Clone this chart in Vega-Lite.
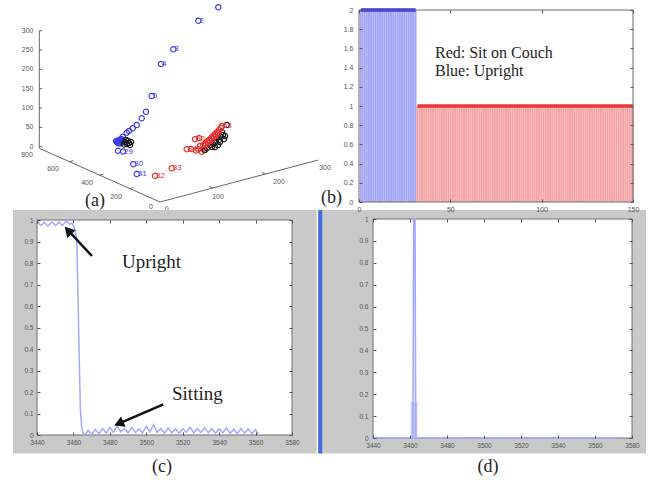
{
  "$schema": "https://vega.github.io/schema/vega-lite/v6.json",
  "width": 654,
  "height": 485,
  "autosize": {"type": "none"},
  "padding": 0,
  "background": "white",
  "config": {
    "view": {"stroke": null},
    "font": "Liberation Sans"
  },
  "layer": [
    {
      "encoding": {
        "x": {"field": "u", "type": "quantitative", "scale": {"domain": [-160, 494], "nice": false, "zero": false}, "axis": null},
        "y": {"field": "v", "type": "quantitative", "scale": {"domain": [-283, 202], "nice": false, "zero": false}, "axis": null}
      },
      "layer": [
        {
          "data": {"values": [
            {"u": -120.7, "v": 54, "u2": -120.7, "v2": 171.3},
            {"u": 0, "v": 0, "u2": -120.7, "v2": 53.7},
            {"u": 0, "v": 0, "u2": 158.3, "v2": 42},
            {"u": -120.7, "v": 55.3, "u2": -117.7, "v2": 55.3},
            {"u": -120.7, "v": 74.6, "u2": -117.7, "v2": 74.6},
            {"u": -120.7, "v": 94, "u2": -117.7, "v2": 94},
            {"u": -120.7, "v": 113.3, "u2": -117.7, "v2": 113.3},
            {"u": -120.7, "v": 132.7, "u2": -117.7, "v2": 132.7},
            {"u": -120.7, "v": 152, "u2": -117.7, "v2": 152},
            {"u": -120.7, "v": 171.3, "u2": -117.7, "v2": 171.3},
            {"u": -30.2, "v": 13.4, "u2": -26.3, "v2": 14.4},
            {"u": -60.4, "v": 26.9, "u2": -56.5, "v2": 27.9},
            {"u": -90.5, "v": 40.3, "u2": -86.6, "v2": 41.3},
            {"u": 52.8, "v": 14, "u2": 49.1, "v2": 15.6},
            {"u": 105.5, "v": 28, "u2": 101.8, "v2": 29.6}
          ]},
          "mark": {"type": "rule", "color": "#666", "strokeWidth": 1},
          "encoding": {"x2": {"field": "u2"}, "y2": {"field": "v2"}}
        },
        {
          "data": {"values": [
            {"u": -126.5, "v": 55.3, "t": "0"},
            {"u": -126.5, "v": 74.6, "t": "50"},
            {"u": -126.5, "v": 94, "t": "100"},
            {"u": -126.5, "v": 113.3, "t": "150"},
            {"u": -126.5, "v": 132.7, "t": "200"},
            {"u": -126.5, "v": 152, "t": "250"},
            {"u": -126.5, "v": 171.3, "t": "300"}
          ]},
          "mark": {"type": "text", "align": "right", "baseline": "middle", "fontSize": 7, "color": "#555"},
          "encoding": {"text": {"field": "t", "type": "nominal"}}
        },
        {
          "data": {"values": [
            {"u": -9, "v": -5, "t": "0"},
            {"u": -44, "v": 5, "t": "200"},
            {"u": -73, "v": 19, "t": "400"},
            {"u": -107, "v": 33, "t": "600"},
            {"u": -133, "v": 47, "t": "800"},
            {"u": 6.7, "v": -7.3, "t": "0"},
            {"u": 58, "v": 5, "t": "100"},
            {"u": 119, "v": 20, "t": "200"},
            {"u": 165, "v": 34, "t": "300"}
          ]},
          "mark": {"type": "text", "align": "center", "baseline": "middle", "fontSize": 7, "color": "#555"},
          "encoding": {"text": {"field": "t", "type": "nominal"}}
        },
        {
          "data": {"values": [
            {"u": 58.3, "v": 194.7, "g": "U"}, {"u": 38.3, "v": 181.3, "g": "U"}, {"u": 13.3, "v": 152.7, "g": "U"}, {"u": 1, "v": 138, "g": "U"},
            {"u": -8.3, "v": 106, "g": "U"}, {"u": -14, "v": 90.3, "g": "U"}, {"u": -18.3, "v": 83.7, "g": "U"}, {"u": -23.3, "v": 77, "g": "U"},
            {"u": -27.3, "v": 73.7, "g": "U"}, {"u": -31, "v": 71, "g": "U"}, {"u": -33.3, "v": 69.3, "g": "U"}, {"u": -37.3, "v": 65.3, "g": "U"},
            {"u": -43, "v": 60, "g": "U"}, {"u": -42, "v": 61.5, "g": "U"}, {"u": -41, "v": 59, "g": "U"}, {"u": -40, "v": 62, "g": "U"},
            {"u": -39, "v": 60.5, "g": "U"}, {"u": -38, "v": 59.5, "g": "U"}, {"u": -37, "v": 61, "g": "U"}, {"u": -42, "v": 59, "g": "U"},
            {"u": -40, "v": 58.5, "g": "U"}, {"u": -38, "v": 62.5, "g": "U"}, {"u": -41, "v": 61, "g": "U"}, {"u": -39, "v": 63, "g": "U"},
            {"u": -44, "v": 61, "g": "U"}, {"u": -36, "v": 60, "g": "U"},
            {"u": -42, "v": 51.3, "g": "U"}, {"u": -37, "v": 50.5, "g": "U"}, {"u": -26.7, "v": 37.7, "g": "U"}, {"u": -23.3, "v": 28, "g": "U"},
            {"u": -5, "v": 26.3, "g": "S"}, {"u": 11.7, "v": 33.7, "g": "S"}, {"u": 26.7, "v": 52.7, "g": "S"}, {"u": 31, "v": 53, "g": "S"},
            {"u": 36, "v": 51.5, "g": "S"}, {"u": 38.3, "v": 52.7, "g": "S"}, {"u": 41.7, "v": 50.3, "g": "S"}, {"u": 35, "v": 62.7, "g": "S"},
            {"u": 39, "v": 64, "g": "S"}, {"u": 44, "v": 52, "g": "S"}, {"u": 40, "v": 56, "g": "S"},
            {"u": 50, "v": 57, "g": "O"}, {"u": 53, "v": 58, "g": "O"}, {"u": 56, "v": 60, "g": "O"}, {"u": 59, "v": 62, "g": "O"},
            {"u": 61, "v": 65, "g": "O"}, {"u": 63, "v": 67, "g": "O"}, {"u": 58, "v": 57, "g": "O"}, {"u": 55, "v": 55, "g": "O"},
            {"u": 60, "v": 60, "g": "O"}, {"u": 64, "v": 63, "g": "O"}, {"u": 62, "v": 70, "g": "O"}, {"u": 47, "v": 54, "g": "O"},
            {"u": 45, "v": 52, "g": "O"}, {"u": 52, "v": 55, "g": "O"}, {"u": 57, "v": 64, "g": "O"}, {"u": 65, "v": 66, "g": "O"},
            {"u": 66.7, "v": 77, "g": "O"},
            {"u": 43.3, "v": 57, "g": "S"}, {"u": 45, "v": 58.5, "g": "S"}, {"u": 47, "v": 60.5, "g": "S"}, {"u": 49, "v": 62, "g": "S"},
            {"u": 51, "v": 64, "g": "S"}, {"u": 53, "v": 66, "g": "S"}, {"u": 55, "v": 68, "g": "S"}, {"u": 57, "v": 70, "g": "S"},
            {"u": 59, "v": 72, "g": "S"}, {"u": 61, "v": 74, "g": "S"}, {"u": 46, "v": 57.5, "g": "S"}, {"u": 48, "v": 59, "g": "S"},
            {"u": 50, "v": 61, "g": "S"}, {"u": 52, "v": 63, "g": "S"}, {"u": 54, "v": 65, "g": "S"}, {"u": 56, "v": 67, "g": "S"},
            {"u": 58, "v": 69, "g": "S"}, {"u": 61.7, "v": 76, "g": "S"},
            {"u": -35, "v": 60, "g": "O"}, {"u": -33, "v": 58, "g": "O"}, {"u": -31, "v": 59, "g": "O"}, {"u": -34, "v": 62, "g": "O"},
            {"u": -32, "v": 61, "g": "O"}, {"u": -30, "v": 57, "g": "O"}, {"u": -36, "v": 57.5, "g": "O"}, {"u": -29, "v": 60, "g": "O"}
          ]},
          "mark": {"type": "point", "filled": false, "size": 28, "strokeWidth": 1.2, "opacity": 1},
          "encoding": {"color": {"field": "g", "type": "nominal", "scale": {"domain": ["U", "S", "O"], "range": ["#3c3ce6", "#e83030", "#1a1a1a"]}, "legend": null}}
        },
        {
          "data": {"values": [
            {"u": 38.3, "v": 181.3, "t": "2", "g": "U"}, {"u": 13.3, "v": 152.7, "t": "3", "g": "U"},
            {"u": 1, "v": 138, "t": "4", "g": "U"}, {"u": -8.3, "v": 106, "t": "5", "g": "U"},
            {"u": -37, "v": 50.5, "t": "29", "g": "U"}, {"u": -26.7, "v": 37.7, "t": "30", "g": "U"},
            {"u": -23.3, "v": 28, "t": "31", "g": "U"}, {"u": -5, "v": 26.3, "t": "32", "g": "S"},
            {"u": 11.7, "v": 33.7, "t": "33", "g": "S"}, {"u": 61.7, "v": 76, "t": "53", "g": "S"},
            {"u": 26.7, "v": 52.7, "t": "34", "g": "S"}, {"u": 35, "v": 62.7, "t": "50", "g": "S"}
          ]},
          "mark": {"type": "text", "align": "left", "baseline": "middle", "dx": 1, "fontSize": 8},
          "encoding": {"text": {"field": "t", "type": "nominal"}, "color": {"field": "g", "type": "nominal", "legend": null}}
        },
        {
          "data": {"values": [
            {"u": -65, "v": 1.5, "t": "(a)"},
            {"u": 171.5, "v": 4.5, "t": "(b)"}
          ]},
          "mark": {"type": "text", "align": "center", "baseline": "middle", "font": "Liberation Serif", "fontSize": 18, "color": "#1e1e1e"},
          "encoding": {"text": {"field": "t", "type": "nominal"}}
        }
      ]
    },
    {
      "data": {"values": [
        {"i": 1, "v": 2, "g": "U"}, {"i": 2, "v": 2, "g": "U"}, {"i": 3, "v": 2, "g": "U"}, {"i": 4, "v": 2, "g": "U"}, {"i": 5, "v": 2, "g": "U"},
        {"i": 6, "v": 2, "g": "U"}, {"i": 7, "v": 2, "g": "U"}, {"i": 8, "v": 2, "g": "U"}, {"i": 9, "v": 2, "g": "U"}, {"i": 10, "v": 2, "g": "U"},
        {"i": 11, "v": 2, "g": "U"}, {"i": 12, "v": 2, "g": "U"}, {"i": 13, "v": 2, "g": "U"}, {"i": 14, "v": 2, "g": "U"}, {"i": 15, "v": 2, "g": "U"},
        {"i": 16, "v": 2, "g": "U"}, {"i": 17, "v": 2, "g": "U"}, {"i": 18, "v": 2, "g": "U"}, {"i": 19, "v": 2, "g": "U"}, {"i": 20, "v": 2, "g": "U"},
        {"i": 21, "v": 2, "g": "U"}, {"i": 22, "v": 2, "g": "U"}, {"i": 23, "v": 2, "g": "U"}, {"i": 24, "v": 2, "g": "U"}, {"i": 25, "v": 2, "g": "U"},
        {"i": 26, "v": 2, "g": "U"}, {"i": 27, "v": 2, "g": "U"}, {"i": 28, "v": 2, "g": "U"}, {"i": 29, "v": 2, "g": "U"}, {"i": 30, "v": 2, "g": "U"},
        {"i": 31, "v": 2, "g": "U"}, {"i": 32, "v": 1, "g": "S"}, {"i": 33, "v": 1, "g": "S"}, {"i": 34, "v": 1, "g": "S"}, {"i": 35, "v": 1, "g": "S"},
        {"i": 36, "v": 1, "g": "S"}, {"i": 37, "v": 1, "g": "S"}, {"i": 38, "v": 1, "g": "S"}, {"i": 39, "v": 1, "g": "S"}, {"i": 40, "v": 1, "g": "S"},
        {"i": 41, "v": 1, "g": "S"}, {"i": 42, "v": 1, "g": "S"}, {"i": 43, "v": 1, "g": "S"}, {"i": 44, "v": 1, "g": "S"}, {"i": 45, "v": 1, "g": "S"},
        {"i": 46, "v": 1, "g": "S"}, {"i": 47, "v": 1, "g": "S"}, {"i": 48, "v": 1, "g": "S"}, {"i": 49, "v": 1, "g": "S"}, {"i": 50, "v": 1, "g": "S"},
        {"i": 51, "v": 1, "g": "S"}, {"i": 52, "v": 1, "g": "S"}, {"i": 53, "v": 1, "g": "S"}, {"i": 54, "v": 1, "g": "S"}, {"i": 55, "v": 1, "g": "S"},
        {"i": 56, "v": 1, "g": "S"}, {"i": 57, "v": 1, "g": "S"}, {"i": 58, "v": 1, "g": "S"}, {"i": 59, "v": 1, "g": "S"}, {"i": 60, "v": 1, "g": "S"},
        {"i": 61, "v": 1, "g": "S"}, {"i": 62, "v": 1, "g": "S"}, {"i": 63, "v": 1, "g": "S"}, {"i": 64, "v": 1, "g": "S"}, {"i": 65, "v": 1, "g": "S"},
        {"i": 66, "v": 1, "g": "S"}, {"i": 67, "v": 1, "g": "S"}, {"i": 68, "v": 1, "g": "S"}, {"i": 69, "v": 1, "g": "S"}, {"i": 70, "v": 1, "g": "S"},
        {"i": 71, "v": 1, "g": "S"}, {"i": 72, "v": 1, "g": "S"}, {"i": 73, "v": 1, "g": "S"}, {"i": 74, "v": 1, "g": "S"}, {"i": 75, "v": 1, "g": "S"},
        {"i": 76, "v": 1, "g": "S"}, {"i": 77, "v": 1, "g": "S"}, {"i": 78, "v": 1, "g": "S"}, {"i": 79, "v": 1, "g": "S"}, {"i": 80, "v": 1, "g": "S"},
        {"i": 81, "v": 1, "g": "S"}, {"i": 82, "v": 1, "g": "S"}, {"i": 83, "v": 1, "g": "S"}, {"i": 84, "v": 1, "g": "S"}, {"i": 85, "v": 1, "g": "S"},
        {"i": 86, "v": 1, "g": "S"}, {"i": 87, "v": 1, "g": "S"}, {"i": 88, "v": 1, "g": "S"}, {"i": 89, "v": 1, "g": "S"}, {"i": 90, "v": 1, "g": "S"},
        {"i": 91, "v": 1, "g": "S"}, {"i": 92, "v": 1, "g": "S"}, {"i": 93, "v": 1, "g": "S"}, {"i": 94, "v": 1, "g": "S"}, {"i": 95, "v": 1, "g": "S"},
        {"i": 96, "v": 1, "g": "S"}, {"i": 97, "v": 1, "g": "S"}, {"i": 98, "v": 1, "g": "S"}, {"i": 99, "v": 1, "g": "S"}, {"i": 100, "v": 1, "g": "S"},
        {"i": 101, "v": 1, "g": "S"}, {"i": 102, "v": 1, "g": "S"}, {"i": 103, "v": 1, "g": "S"}, {"i": 104, "v": 1, "g": "S"}, {"i": 105, "v": 1, "g": "S"},
        {"i": 106, "v": 1, "g": "S"}, {"i": 107, "v": 1, "g": "S"}, {"i": 108, "v": 1, "g": "S"}, {"i": 109, "v": 1, "g": "S"}, {"i": 110, "v": 1, "g": "S"},
        {"i": 111, "v": 1, "g": "S"}, {"i": 112, "v": 1, "g": "S"}, {"i": 113, "v": 1, "g": "S"}, {"i": 114, "v": 1, "g": "S"}, {"i": 115, "v": 1, "g": "S"},
        {"i": 116, "v": 1, "g": "S"}, {"i": 117, "v": 1, "g": "S"}, {"i": 118, "v": 1, "g": "S"}, {"i": 119, "v": 1, "g": "S"}, {"i": 120, "v": 1, "g": "S"},
        {"i": 121, "v": 1, "g": "S"}, {"i": 122, "v": 1, "g": "S"}, {"i": 123, "v": 1, "g": "S"}, {"i": 124, "v": 1, "g": "S"}, {"i": 125, "v": 1, "g": "S"},
        {"i": 126, "v": 1, "g": "S"}, {"i": 127, "v": 1, "g": "S"}, {"i": 128, "v": 1, "g": "S"}, {"i": 129, "v": 1, "g": "S"}, {"i": 130, "v": 1, "g": "S"},
        {"i": 131, "v": 1, "g": "S"}, {"i": 132, "v": 1, "g": "S"}, {"i": 133, "v": 1, "g": "S"}, {"i": 134, "v": 1, "g": "S"}, {"i": 135, "v": 1, "g": "S"},
        {"i": 136, "v": 1, "g": "S"}, {"i": 137, "v": 1, "g": "S"}, {"i": 138, "v": 1, "g": "S"}, {"i": 139, "v": 1, "g": "S"}, {"i": 140, "v": 1, "g": "S"},
        {"i": 141, "v": 1, "g": "S"}, {"i": 142, "v": 1, "g": "S"}, {"i": 143, "v": 1, "g": "S"}, {"i": 144, "v": 1, "g": "S"}, {"i": 145, "v": 1, "g": "S"},
        {"i": 146, "v": 1, "g": "S"}, {"i": 147, "v": 1, "g": "S"}, {"i": 148, "v": 1, "g": "S"}, {"i": 149, "v": 1, "g": "S"}, {"i": 150, "v": 1, "g": "S"}
      ]},
      "layer": [
        {
          "mark": {"type": "bar", "width": 1.83},
          "encoding": {
            "x": {"field": "i", "type": "quantitative", "scale": {"domain": [0, 150], "range": [359, 633], "nice": false, "zero": false, "padding": 0}, "axis": {"orient": "bottom", "offset": -283, "values": [0, 50, 100, 150], "domain": false, "grid": false, "tickSize": -3, "tickColor": "#555", "labelPadding": 6, "labelFontSize": 7, "labelColor": "#555", "labelOverlap": false, "labelFlush": false, "zindex": 1, "title": null}},
            "y": {"field": "v", "type": "quantitative", "stack": null, "scale": {"domain": [0, 2], "range": [202, 10], "nice": false, "zero": false, "padding": 0}, "axis": {"orient": "left", "offset": -359, "values": [0, 0.2, 0.4, 0.6, 0.8, 1, 1.2, 1.4, 1.6, 1.8, 2], "format": "~g", "domain": false, "grid": false, "tickSize": -3, "tickColor": "#555", "labelPadding": 9, "labelFontSize": 7, "labelColor": "#555", "labelOverlap": false, "labelFlush": false, "zindex": 1, "title": null}},
            "fill": {"field": "g", "type": "nominal", "scale": {"domain": ["U", "S"], "range": ["#a3a7f5", "#f6a6a6"]}, "legend": null}
          }
        },
        {
          "mark": {"type": "line", "strokeWidth": 3.5},
          "encoding": {
            "x": {"field": "i", "type": "quantitative"},
            "y": {"field": "v", "type": "quantitative"},
            "stroke": {"field": "g", "type": "nominal", "scale": {"domain": ["U", "S"], "range": ["#3535e8", "#ef3636"]}, "legend": null}
          }
        },
        {
          "data": {"values": [{"i": 41.6, "v": 1.557, "t": "Red: Sit on Couch"}, {"i": 41.6, "v": 1.365, "t": "Blue: Upright"}]},
          "mark": {"type": "text", "align": "left", "baseline": "middle", "font": "Liberation Serif", "fontSize": 16, "color": "#1e1e1e"},
          "encoding": {"x": {"field": "i", "type": "quantitative"}, "y": {"field": "v", "type": "quantitative"}, "text": {"field": "t", "type": "nominal"}}
        }
      ]
    },
    {
      "data": {"values": [{"i": 0, "i2": 150, "v": 0, "v2": 2}]},
      "mark": {"type": "rect", "filled": false, "stroke": "#6b6b6b", "strokeWidth": 1},
      "encoding": {
        "x": {"field": "i", "type": "quantitative", "scale": {"domain": [0, 150], "range": [359, 633], "nice": false, "zero": false}, "axis": {"orient": "top", "offset": -10, "values": [0, 50, 100, 150], "labels": false, "domain": false, "grid": false, "tickSize": -3, "tickColor": "#555", "zindex": 1, "title": null}},
        "x2": {"field": "i2"},
        "y": {"field": "v", "type": "quantitative", "scale": {"domain": [0, 2], "range": [202, 10], "nice": false, "zero": false}, "axis": {"orient": "right", "offset": -21, "values": [0, 0.2, 0.4, 0.6, 0.8, 1, 1.2, 1.4, 1.6, 1.8, 2], "labels": false, "domain": false, "grid": false, "tickSize": -3, "tickColor": "#555", "zindex": 1, "title": null}},
        "y2": {"field": "v2"}
      }
    },
    {
      "layer": [
        {
          "data": {"values": [{"t": 3426.8, "t2": 3593.5, "p": -0.086, "p2": 1.0465}]},
          "mark": {"type": "rect", "color": "#c9c9c9"},
          "encoding": {"x": {"field": "t", "type": "quantitative"}, "x2": {"field": "t2"}, "y": {"field": "p", "type": "quantitative"}, "y2": {"field": "p2"}}
        },
        {
          "data": {"values": [{"t": 3595.6, "p": -0.086, "p2": 1.0465}]},
          "mark": {"type": "rule", "color": "#3c6ed8", "strokeWidth": 4.5},
          "encoding": {"x": {"field": "t", "type": "quantitative"}, "y": {"field": "p", "type": "quantitative"}, "y2": {"field": "p2"}}
        },
        {
          "data": {"values": [{"t": 3440, "t2": 3580, "p": 0, "p2": 1}]},
          "mark": {"type": "rect", "fill": "white", "stroke": "#707070", "strokeWidth": 1},
          "encoding": {
            "x": {"field": "t", "type": "quantitative", "scale": {"domain": [3440, 3580], "range": [37, 292], "nice": false, "zero": false}, "axis": {"orient": "top", "offset": -220, "values": [3440, 3460, 3480, 3500, 3520, 3540, 3560, 3580], "labels": false, "domain": false, "grid": false, "tickSize": -3, "tickColor": "#555", "zindex": 1, "title": null}},
            "x2": {"field": "t2"},
            "y": {"field": "p", "type": "quantitative", "scale": {"domain": [0, 1], "range": [435, 220], "nice": false, "zero": false}, "axis": {"orient": "right", "offset": -362, "values": [0, 0.1, 0.2, 0.3, 0.4, 0.5, 0.6, 0.7, 0.8, 0.9, 1], "labels": false, "domain": false, "grid": false, "tickSize": -3, "tickColor": "#555", "zindex": 1, "title": null}},
            "y2": {"field": "p2"}
          }
        }
      ]
    },
    {
      "layer": [
        {
          "data": {"values": [
            {"t": 3440, "p": 0.995}, {"t": 3441, "p": 0.985}, {"t": 3442, "p": 0.975}, {"t": 3443, "p": 0.98}, {"t": 3444, "p": 0.99},
            {"t": 3445, "p": 0.98}, {"t": 3446, "p": 0.972}, {"t": 3447, "p": 0.98}, {"t": 3448, "p": 0.99}, {"t": 3449, "p": 0.985},
            {"t": 3450, "p": 0.975}, {"t": 3451, "p": 0.98}, {"t": 3452, "p": 0.99}, {"t": 3453, "p": 0.982}, {"t": 3454, "p": 0.975},
            {"t": 3455, "p": 0.985}, {"t": 3456, "p": 0.995}, {"t": 3457, "p": 0.99}, {"t": 3458, "p": 0.98}, {"t": 3459, "p": 0.985},
            {"t": 3460, "p": 0.975}, {"t": 3461, "p": 0.95}, {"t": 3461.8, "p": 0.91}, {"t": 3462.5, "p": 0.65}, {"t": 3463.2, "p": 0.35},
            {"t": 3463.8, "p": 0.12}, {"t": 3464.6, "p": 0.03}, {"t": 3465.5, "p": 0.005}, {"t": 3466.5, "p": 0.0},
            {"t": 3468, "p": 0.022}, {"t": 3470, "p": 0.004}, {"t": 3472, "p": 0.026}, {"t": 3474, "p": 0.006}, {"t": 3476, "p": 0.03},
            {"t": 3478, "p": 0.008}, {"t": 3480, "p": 0.035}, {"t": 3482, "p": 0.012}, {"t": 3484, "p": 0.042}, {"t": 3486, "p": 0.015},
            {"t": 3488, "p": 0.03}, {"t": 3490, "p": 0.01}, {"t": 3492, "p": 0.035}, {"t": 3494, "p": 0.012}, {"t": 3496, "p": 0.028},
            {"t": 3498, "p": 0.01}, {"t": 3500, "p": 0.04}, {"t": 3502, "p": 0.015}, {"t": 3504, "p": 0.048}, {"t": 3506, "p": 0.012},
            {"t": 3508, "p": 0.03}, {"t": 3510, "p": 0.008}, {"t": 3512, "p": 0.032}, {"t": 3514, "p": 0.01}, {"t": 3516, "p": 0.028},
            {"t": 3518, "p": 0.008}, {"t": 3520, "p": 0.03}, {"t": 3522, "p": 0.012}, {"t": 3524, "p": 0.036}, {"t": 3526, "p": 0.01},
            {"t": 3528, "p": 0.03}, {"t": 3530, "p": 0.012}, {"t": 3532, "p": 0.034}, {"t": 3534, "p": 0.01}, {"t": 3536, "p": 0.03},
            {"t": 3538, "p": 0.008}, {"t": 3540, "p": 0.028}, {"t": 3542, "p": 0.01}, {"t": 3544, "p": 0.032}, {"t": 3546, "p": 0.008},
            {"t": 3548, "p": 0.026}, {"t": 3550, "p": 0.006}, {"t": 3552, "p": 0.03}, {"t": 3554, "p": 0.008}, {"t": 3556, "p": 0.028},
            {"t": 3558, "p": 0.006}, {"t": 3560, "p": 0.025}, {"t": 3561.5, "p": 0.004}
          ]},
          "mark": {"type": "line", "color": "#a3a9fc", "strokeWidth": 1.5},
          "encoding": {
            "x": {"field": "t", "type": "quantitative", "scale": {"domain": [3440, 3580], "range": [37, 292], "nice": false, "zero": false}, "axis": {"orient": "bottom", "offset": -50, "values": [3440, 3460, 3480, 3500, 3520, 3540, 3560, 3580], "format": "d", "domain": false, "grid": false, "tickSize": -3, "tickColor": "#555", "labelPadding": 7, "labelFontSize": 6.5, "labelColor": "#555", "labelOverlap": false, "labelFlush": false, "zindex": 1, "title": null}},
            "y": {"field": "p", "type": "quantitative", "scale": {"domain": [0, 1], "range": [435, 220], "nice": false, "zero": false}, "axis": {"orient": "left", "offset": -37, "values": [0, 0.1, 0.2, 0.3, 0.4, 0.5, 0.6, 0.7, 0.8, 0.9, 1], "format": "~g", "domain": false, "grid": false, "tickSize": -3, "tickColor": "#555", "labelPadding": 7, "labelFontSize": 6.5, "labelColor": "#555", "labelOverlap": false, "labelFlush": false, "zindex": 1, "title": null}}
          }
        },
        {
          "data": {"values": [{"t": 3470.2, "p": 0.8326, "t2": 3457.07, "p2": 0.9516}, {"t": 3509.34, "p": 0.1428, "t2": 3484.91, "p2": 0.053}]},
          "mark": {"type": "rule", "color": "#111", "strokeWidth": 2.5},
          "encoding": {"x": {"field": "t", "type": "quantitative"}, "y": {"field": "p", "type": "quantitative"}, "x2": {"field": "t2"}, "y2": {"field": "p2"}}
        },
        {
          "data": {"values": [{"t": 3457.07, "p": 0.9516, "a": 317}, {"t": 3484.91, "p": 0.053, "a": 246}]},
          "mark": {"type": "point", "shape": "triangle-up", "filled": true, "color": "#111", "size": 130, "opacity": 1},
          "encoding": {"x": {"field": "t", "type": "quantitative"}, "y": {"field": "p", "type": "quantitative"}, "angle": {"field": "a", "type": "quantitative", "scale": null}}
        },
        {
          "data": {"values": [{"t": 3486.67, "p": 0.8047, "s": "Upright"}, {"t": 3514.12, "p": 0.193, "s": "Sitting"}]},
          "mark": {"type": "text", "align": "left", "baseline": "middle", "font": "Liberation Serif", "fontSize": 19, "color": "#1e1e1e"},
          "encoding": {"x": {"field": "t", "type": "quantitative"}, "y": {"field": "p", "type": "quantitative"}, "text": {"field": "s", "type": "nominal"}}
        },
        {
          "data": {"values": [{"t": 3508.6, "p": -0.1488, "s": "(c)"}]},
          "mark": {"type": "text", "align": "center", "baseline": "middle", "font": "Liberation Serif", "fontSize": 18, "color": "#1e1e1e"},
          "encoding": {"x": {"field": "t", "type": "quantitative"}, "y": {"field": "p", "type": "quantitative"}, "text": {"field": "s", "type": "nominal"}}
        }
      ]
    },
    {
      "layer": [
        {
          "data": {"values": [{"t": 3412.7, "t2": 3587.6, "p": -0.0708, "p2": 1.0411}]},
          "mark": {"type": "rect", "color": "#c9c9c9"},
          "encoding": {"x": {"field": "t", "type": "quantitative"}, "x2": {"field": "t2"}, "y": {"field": "p", "type": "quantitative"}, "y2": {"field": "p2"}}
        },
        {
          "data": {"values": [{"t": 3440, "t2": 3580, "p": 0, "p2": 1}]},
          "mark": {"type": "rect", "fill": "white", "stroke": "#707070", "strokeWidth": 1},
          "encoding": {
            "x": {"field": "t", "type": "quantitative", "scale": {"domain": [3440, 3580], "range": [373, 632], "nice": false, "zero": false}, "axis": {"orient": "top", "offset": -219, "values": [3440, 3460, 3480, 3500, 3520, 3540, 3560, 3580], "labels": false, "domain": false, "grid": false, "tickSize": -3, "tickColor": "#555", "zindex": 1, "title": null}},
            "x2": {"field": "t2"},
            "y": {"field": "p", "type": "quantitative", "scale": {"domain": [0, 1], "range": [438, 219], "nice": false, "zero": false}, "axis": {"orient": "right", "offset": -22, "values": [0, 0.1, 0.2, 0.3, 0.4, 0.5, 0.6, 0.7, 0.8, 0.9, 1], "labels": false, "domain": false, "grid": false, "tickSize": -3, "tickColor": "#555", "zindex": 1, "title": null}},
            "y2": {"field": "p2"}
          }
        }
      ]
    },
    {
      "layer": [
        {
          "data": {"values": [{"t": 3460.4, "t2": 3464, "p": 0, "p2": 0.165}]},
          "mark": {"type": "rect", "color": "#c6cafd"},
          "encoding": {"x": {"field": "t", "type": "quantitative"}, "x2": {"field": "t2"}, "y": {"field": "p", "type": "quantitative"}, "y2": {"field": "p2"}}
        },
        {
          "data": {"values": [
            {"t": 3440, "p": 0}, {"t": 3461.6, "p": 0}, {"t": 3462, "p": 1}, {"t": 3462.7, "p": 1},
            {"t": 3463.1, "p": 0}, {"t": 3572, "p": 0}
          ]},
          "mark": {"type": "line", "color": "#a3a9fc", "strokeWidth": 1.6},
          "encoding": {
            "x": {"field": "t", "type": "quantitative", "scale": {"domain": [3440, 3580], "range": [373, 632], "nice": false, "zero": false}, "axis": {"orient": "bottom", "offset": -47, "values": [3440, 3460, 3480, 3500, 3520, 3540, 3560, 3580], "format": "d", "domain": false, "grid": false, "tickSize": -3, "tickColor": "#555", "labelPadding": 7, "labelFontSize": 6.5, "labelColor": "#555", "labelOverlap": false, "labelFlush": false, "zindex": 1, "title": null}},
            "y": {"field": "p", "type": "quantitative", "scale": {"domain": [0, 1], "range": [438, 219], "nice": false, "zero": false}, "axis": {"orient": "left", "offset": -373, "values": [0, 0.1, 0.2, 0.3, 0.4, 0.5, 0.6, 0.7, 0.8, 0.9, 1], "format": "~g", "domain": false, "grid": false, "tickSize": -3, "tickColor": "#555", "labelPadding": 8, "labelFontSize": 6.5, "labelColor": "#555", "labelOverlap": false, "labelFlush": false, "zindex": 1, "title": null}}
          }
        },
        {
          "data": {"values": [{"t": 3502.2, "p": -0.132, "s": "(d)"}]},
          "mark": {"type": "text", "align": "center", "baseline": "middle", "font": "Liberation Serif", "fontSize": 18, "color": "#1e1e1e"},
          "encoding": {"x": {"field": "t", "type": "quantitative"}, "y": {"field": "p", "type": "quantitative"}, "text": {"field": "s", "type": "nominal"}}
        }
      ]
    }
  ],
  "resolve": {"scale": {"x": "independent", "y": "independent"}, "axis": {"x": "independent", "y": "independent"}}
}
